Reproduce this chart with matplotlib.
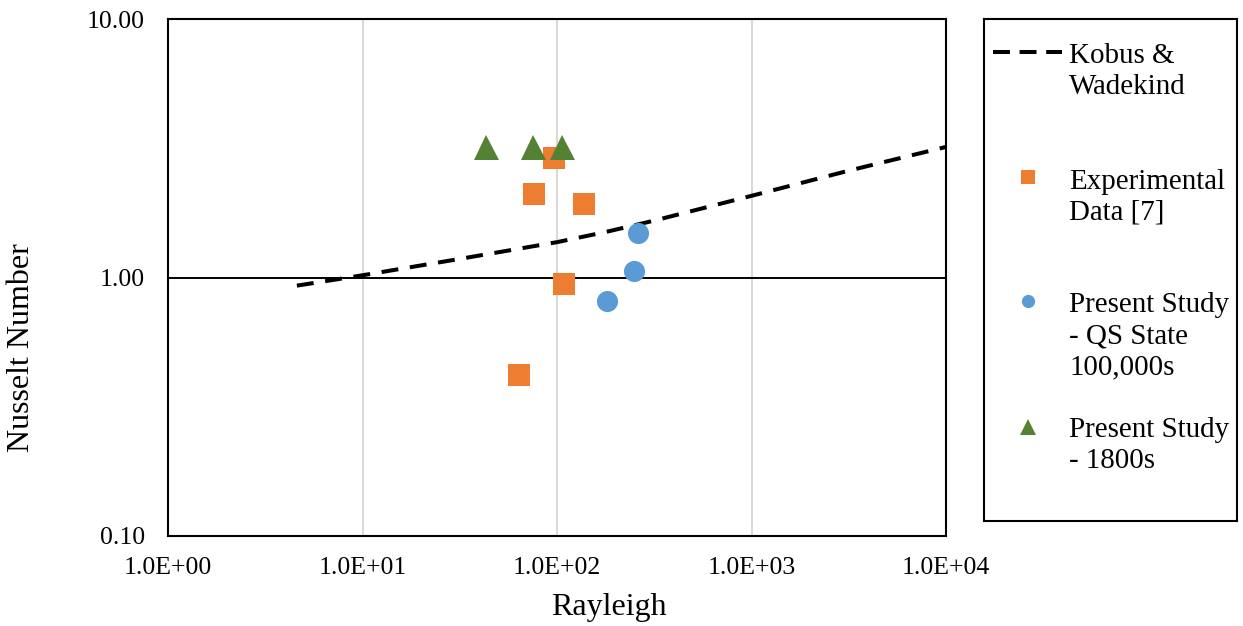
import matplotlib
matplotlib.use("Agg")
import matplotlib.pyplot as plt
from matplotlib.ticker import FuncFormatter, FixedLocator, NullLocator

plt.rcParams['font.family'] = ['Liberation Serif', 'DejaVu Serif']

# Kobus & Wadekind correlation
kobus_ra = [4.6, 10, 31.6, 100, 178, 316, 1000, 3162, 10000]
kobus_nu = [0.93, 1.02, 1.18, 1.37, 1.50, 1.66, 2.07, 2.59, 3.2]

# Experimental data [7]
exp_ra = [76.6, 96, 137, 108, 63.4]
exp_nu = [2.11, 2.91, 1.93, 0.94, 0.42]

# Present study, quasi-steady state at 100,000 s
qs_ra = [180, 248, 260]
qs_nu = [0.81, 1.06, 1.48]

# Present study at 1800 s
t1800_ra = [42.9, 75.7, 106.7]
t1800_nu = [3.2, 3.2, 3.2]

x_ticks = [1, 10, 100, 1000, 10000]
y_ticks = [0.1, 1, 10]

ORANGE = '#ED7D31'
BLUE = '#5B9BD5'
GREEN = '#548235'

W, H = 1243, 626
fig = plt.figure(figsize=(W / 100, H / 100), dpi=100)
ax = fig.add_axes([168 / W, 1 - 536 / H, (946 - 168) / W, (536 - 19) / H])

ax.set_xscale('log')
ax.set_yscale('log')
ax.set_xlim(1, 10000)
ax.set_ylim(0.1, 10)

ax.xaxis.set_major_locator(FixedLocator(x_ticks))
ax.yaxis.set_major_locator(FixedLocator(y_ticks))
ax.xaxis.set_minor_locator(NullLocator())
ax.yaxis.set_minor_locator(NullLocator())
ax.xaxis.set_major_formatter(FuncFormatter(lambda v, p: '%.1E' % v))
ax.yaxis.set_major_formatter(FuncFormatter(lambda v, p: '%.2f' % v))
ax.tick_params(axis='both', length=0, labelsize=18.5)
ax.tick_params(axis='x', pad=15)
ax.tick_params(axis='y', pad=16.5)

for s in ax.spines.values():
    s.set_linewidth(1.5)
    s.set_color('black')

# vertical grid only, plus the axis line at Nu = 1
for xv in x_ticks[1:-1]:
    ax.axvline(xv, color='#D9D9D9', lw=1.5, zorder=0)
ax.axhline(1, color='black', lw=1.4, zorder=1)

ax.plot(kobus_ra, kobus_nu, color='black', lw=2.9, dashes=(4.2, 2.9),
        zorder=2)
ax.plot(exp_ra, exp_nu, 's', color=ORANGE, ms=15.8, mew=0, zorder=3)
ax.plot(qs_ra, qs_nu, 'o', color=BLUE, ms=15.2, mew=0, zorder=3)
ax.plot(t1800_ra, t1800_nu, '^', color=GREEN, ms=18, mew=0, zorder=3)

fig.text(609 / W, 1 - 607 / H, 'Rayleigh', fontsize=23,
         ha='center', va='center')
fig.text(22 / W, 1 - 348 / H, 'Nusselt Number', fontsize=23,
         ha='center', va='center', rotation=90)

# legend box drawn on its own axes, in pixel units
lg = fig.add_axes([984 / W, 1 - 521 / H, (1237 - 984) / W, (521 - 19) / H])
lg.set_xlim(0, 253)
lg.set_ylim(502, 0)
lg.set_xticks([])
lg.set_yticks([])
for s in lg.spines.values():
    s.set_linewidth(1.5)
    s.set_color('black')

lg.plot([9, 78], [33, 33], color='black', lw=2.9, dashes=(4.2, 2.4))
lg.plot([44], [158], 's', color=ORANGE, ms=9.5, mew=0)
lg.plot([44], [282], 'o', color=BLUE, ms=9.5, mew=0)
lg.plot([44], [408], '^', color=GREEN, ms=12, mew=0)

legend_lines = [
    ('Kobus &', 44), ('Wadekind', 75),
    ('Experimental', 170), ('Data [7]', 201),
    ('Present Study', 293), ('- QS State', 324), ('100,000s', 355),
    ('Present Study', 418), ('- 1800s', 449),
]
for txt, yb in legend_lines:
    lg.text(85, yb, txt, fontsize=20.9, ha='left', va='baseline')

fig.savefig('out.png', dpi=100)
